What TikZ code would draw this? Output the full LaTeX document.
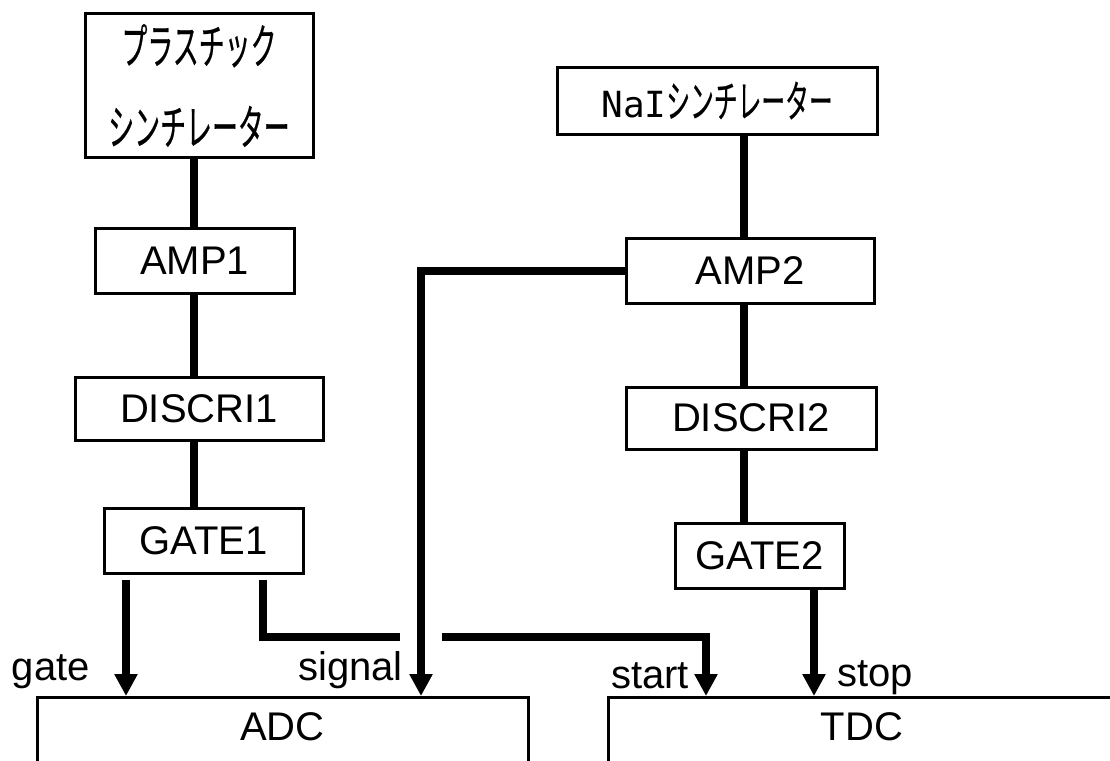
\documentclass[tikz,border=0pt]{standalone}
\usepackage{fontspec}
\setmainfont{Liberation Sans}
\newfontfamily\jpfont[FakeStretch=0.54, FakeBold=0.4]{Noto Sans CJK JP}
\newfontfamily\latmono{DejaVu Sans Mono}
\usetikzlibrary{arrows.meta,calc}

\begin{document}
\begin{tikzpicture}[x=1pt, y=-1pt,
        unit/.style={draw, line width=3pt, inner sep=0pt, font=\fontsize{40}{48}\selectfont},
        wire/.style={line width=8pt},
        sig/.style={wire, -{Triangle[length=22pt, width=22pt]}},
        port/.style={inner sep=0pt, font=\fontsize{40}{48}\selectfont}]
        \useasboundingbox (0,0) rectangle (1110,760);
        \clip (0,0) rectangle (1110,760);
        
        \node[unit, minimum width=228pt, minimum height=143pt, align=center, font=\jpfont\fontsize{48}{81}\selectfont] (plastic) at (199,85.5) {プラスチック\\シンチレーター};
        \node[unit, minimum width=199pt, minimum height=65pt] (amp1) at (194.5,260.5) {AMP1};
        \node[unit, minimum width=248pt, minimum height=63pt] (discri1) at (199,408.5) {DISCRI1};
        \node[unit, minimum width=199pt, minimum height=65pt] (gate1) at (203.5,540.5) {GATE1};
        
        \node[unit, minimum width=320pt, minimum height=67pt, font=\jpfont\fontsize{44}{46}\selectfont] (nai) at (717,100.5) {{\latmono\fontsize{36}{46}\selectfont NaI}シンチレーター};
        \node[unit, minimum width=248pt, minimum height=65pt] (amp2) at (750,270.5) {AMP2};
        \node[unit, minimum width=250pt, minimum height=62pt] (discri2) at (751,418) {DISCRI2};
        \node[unit, minimum width=169pt, minimum height=65pt] (gate2) at (759.5,555.5) {GATE2};
        
        \node[unit, minimum width=491pt, minimum height=104pt, anchor=north] (adc) at (282.5,696) {};
        \node[port] (adclbl) at (282.5,727) {ADC};
        \node[unit, minimum width=600pt, minimum height=104pt, anchor=north west] (tdc) at (607,696) {};
        \node[port] (tdclbl) at (862,727) {TDC};
        
        \coordinate (axisL) at (194,0);
        \coordinate (axisR) at (744,0);
        \coordinate (gatex) at (126,0);
        \coordinate (sigx) at (421,0);
        \coordinate (startx) at (706,0);
        \coordinate (stopx) at (814,0);
        \coordinate (hopL) at (400,637);
        \coordinate (hopR) at (442,637);
        
        \draw[wire] (plastic.south -| axisL) -- (amp1.north -| axisL);
        \draw[wire] (amp1.south -| axisL) -- (discri1.north -| axisL);
        \draw[wire] (discri1.south -| axisL) -- (gate1.north -| axisL);
        \draw[wire] (nai.south -| axisR) -- (amp2.north -| axisR);
        \draw[wire] (amp2.south -| axisR) -- (discri2.north -| axisR);
        \draw[wire] (discri2.south -| axisR) -- (gate2.north -| axisR);
        
        \draw[sig, shorten <=5pt] (gate1.south -| gatex) -- (adc.north -| gatex);
        \draw[wire, shorten <=5pt] (gate1.south -| 263,0) |- (hopL);
        \draw[sig] (hopR) -| (tdc.north -| startx);
        \draw[sig] (amp2.west) -| (adc.north -| sigx);
        \draw[sig] (gate2.south -| stopx) -- (tdc.north -| stopx);
        
        \node[port, anchor=base east] (gatelbl) at (90,680) {gate};
        \node[port, anchor=base east] (signallbl) at (403,680) {signal};
        \node[port, anchor=base west] (startlbl) at (611,688) {start};
        \node[port, anchor=base west] (stoplbl) at (837,686) {stop};
\end{tikzpicture}
\end{document}
